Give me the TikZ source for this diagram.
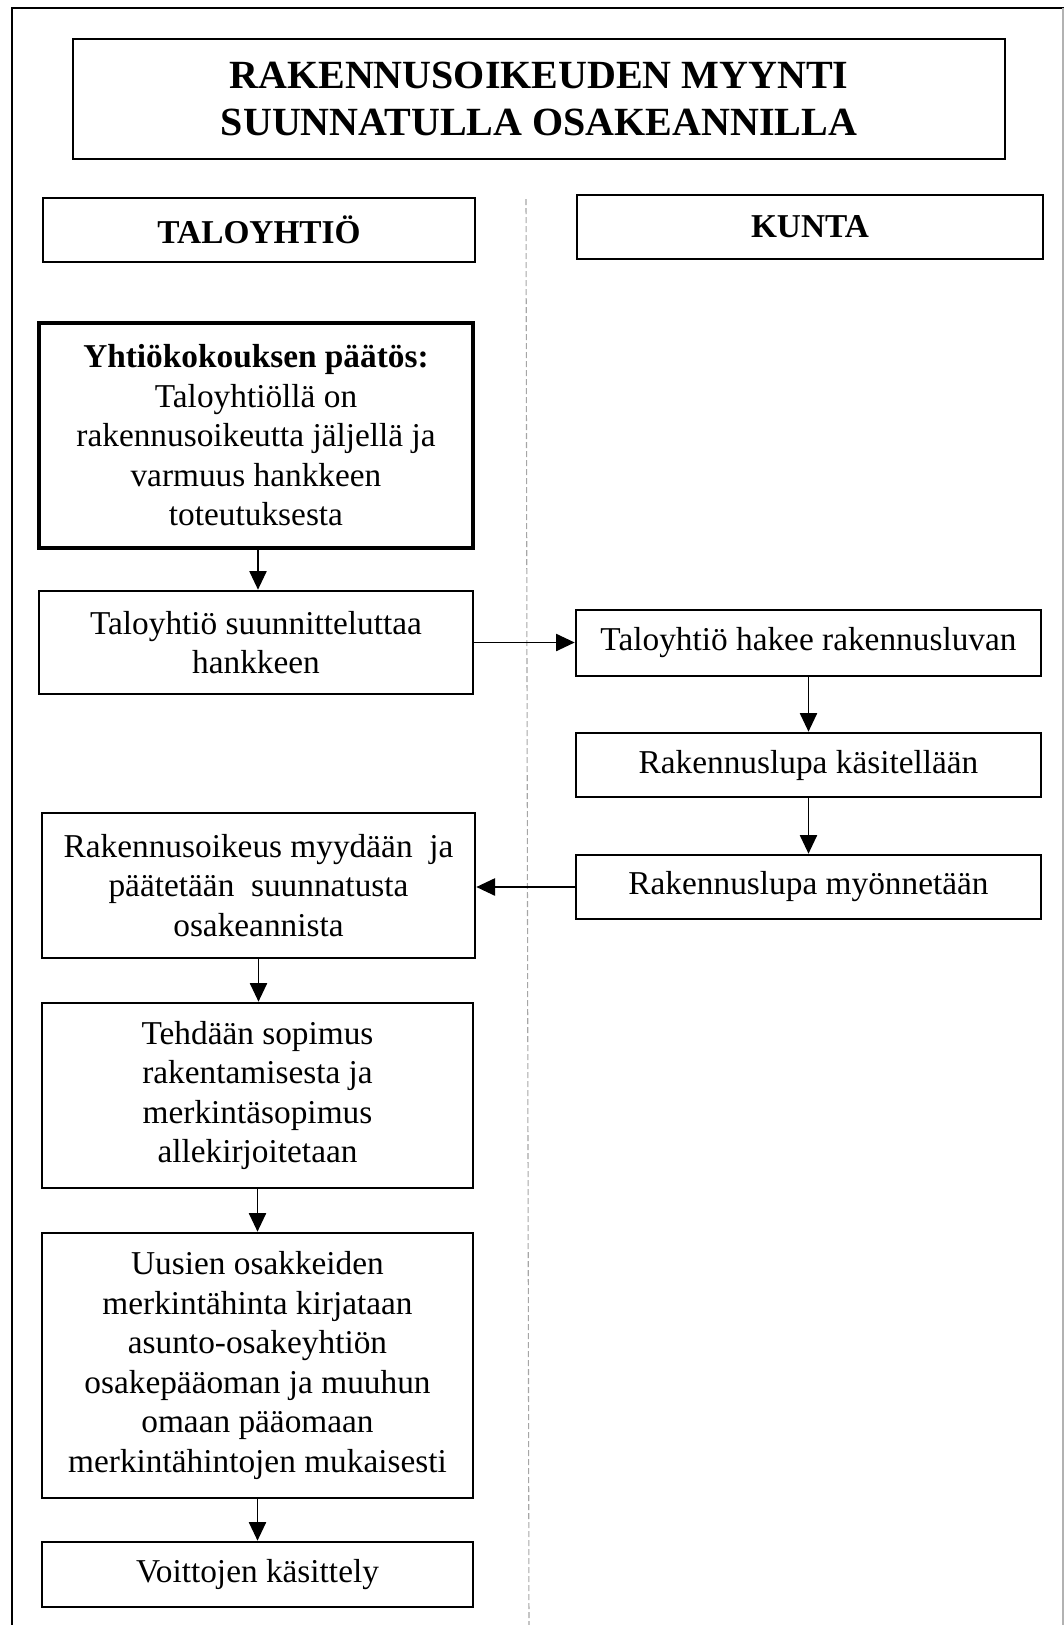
\documentclass[tikz,border=0pt]{standalone}
\usepackage{fontspec}
\setmainfont{Liberation Serif}
\usetikzlibrary{arrows.meta}
\begin{document}
\begin{tikzpicture}[x=0.75pt,y=-0.75pt,
  box/.style={draw, line width=2pt, inner sep=0pt, align=center,
    font=\fontsize{25}{29.6}\selectfont},
  heavybox/.style={box, line width=3pt},
  headbox/.style={box, font=\fontsize{25}{29.6}\selectfont\bfseries},
  titlebox/.style={box, font=\fontsize{30}{35}\selectfont\bfseries},
  arr/.style={line width=1pt, -{Triangle[length=14pt,width=13pt]}},
  lane/.style={draw=black!35, line width=0.8pt, dash pattern=on 4.5pt off 2.25pt}]
\useasboundingbox (0,0) rectangle (1064,1625);

% page frame
\draw[line width=2.2pt] (12,1625) -- (12,8) -- (1064,8);
\draw[black!30, line width=0.8pt] (1063,8) -- (1063,1625);

% lane divider
\coordinate (laneTop) at (526,199);
\coordinate (laneBot) at (529,1625);
\draw[lane] (laneTop) -- (laneBot);

% title and lane headers
\node[titlebox, minimum width=699pt, minimum height=90pt] (title) at (539,99)
  {RAKENNUSOIKEUDEN MYYNTI\\SUUNNATULLA OSAKEANNILLA};
\node[headbox, minimum width=324pt, minimum height=48pt] (taloyhtio) at (259,230) {TALOYHTIÖ};
\node[headbox, minimum width=349.5pt, minimum height=48pt] (kunta) at (810,227) {KUNTA};

% left lane
\node[heavybox, minimum width=325.5pt, minimum height=168.75pt] (paatos) at (256,435.5)
  {\textbf{Yhtiökokouksen päätös:}\\Taloyhtiöllä on\\rakennusoikeutta jäljellä ja\\varmuus hankkeen\\toteutuksesta};
\node[box, minimum width=325.5pt, minimum height=77.25pt] (suunnittelu) at (256,642.5)
  {Taloyhtiö suunnitteluttaa\\hankkeen};
\node[box, minimum width=324.75pt, minimum height=108.75pt] (myynti) at (258.5,885.5)
  {Rakennusoikeus myydään\ \ ja\\päätetään\ \ suunnatusta\\osakeannista};
\node[box, minimum width=323.25pt, minimum height=138.75pt] (sopimus) at (257.5,1095.5)
  {Tehdään sopimus\\rakentamisesta ja\\merkintäsopimus\\allekirjoitetaan};
\node[box, minimum width=323.25pt, minimum height=198.75pt] (kirjaus) at (257.5,1365.5)
  {Uusien osakkeiden\\merkintähinta kirjataan\\asunto-osakeyhtiön\\osakepääoman ja muuhun\\omaan pääomaan\\merkintähintojen mukaisesti};
\node[box, minimum width=323.25pt, minimum height=48.75pt] (voitot) at (257.5,1574.5) {Voittojen käsittely};

% right lane
\node[box, minimum width=348.75pt, minimum height=49.5pt] (hakee) at (808.5,643) {Taloyhtiö hakee rakennusluvan};
\node[box, minimum width=348.75pt, minimum height=48pt] (kasittely) at (808.5,765) {Rakennuslupa käsitellään};
\node[box, minimum width=348.75pt, minimum height=48pt] (myonto) at (808.5,887) {Rakennuslupa myönnetään};

% connectors
\draw[arr] ([xshift=1.5pt]paatos.south) -- ([xshift=1.5pt]paatos.south |- suunnittelu.north);
\draw[arr] (suunnittelu.east) -- (suunnittelu.east -| hakee.west);
\draw[arr] (hakee.south) -- (kasittely.north);
\draw[arr] (kasittely.south) -- (myonto.north);
\draw[arr] (myonto.west) -- (myonto.west -| myynti.east);
\draw[arr] (myynti.south) -- (myynti.south |- sopimus.north);
\draw[arr] (sopimus.south) -- (sopimus.south |- kirjaus.north);
\draw[arr] (kirjaus.south) -- (kirjaus.south |- voitot.north);
\end{tikzpicture}
\end{document}
